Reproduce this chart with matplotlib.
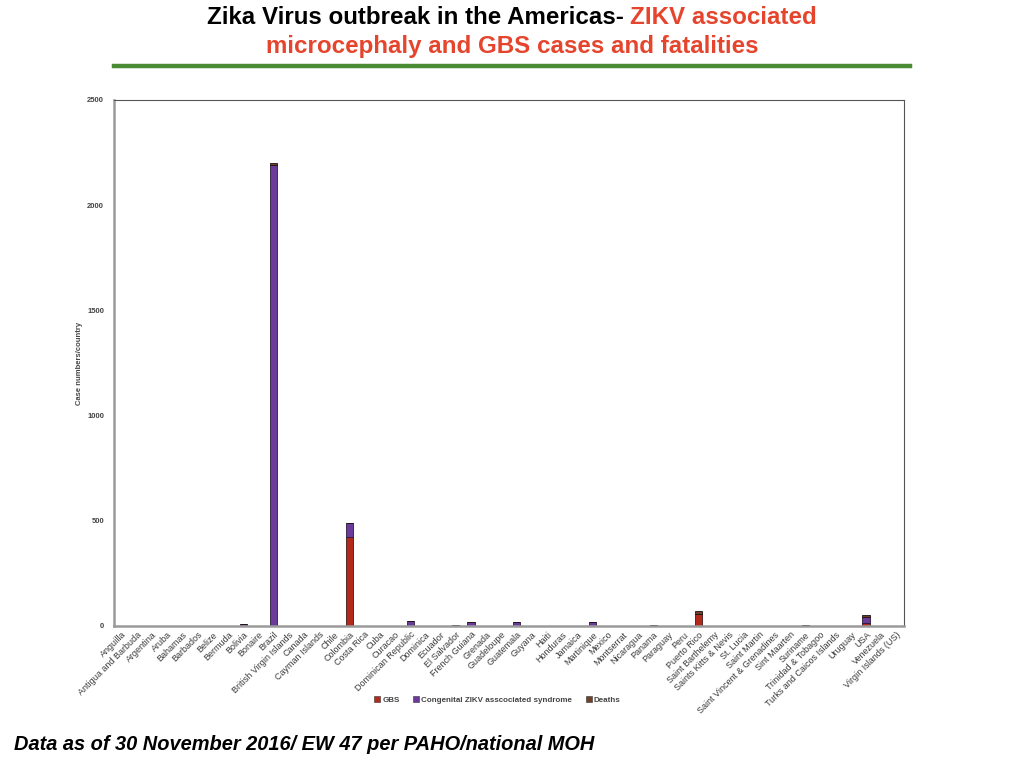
import matplotlib
matplotlib.use("Agg")
import matplotlib.pyplot as plt
import numpy as np
from matplotlib.lines import Line2D

plt.rcParams['font.family'] = ['Liberation Sans', 'DejaVu Sans']

countries = ["Anguilla", "Antigua and Barbuda", "Argentina", "Aruba", "Bahamas",
             "Barbados", "Belize", "Bermuda", "Bolivia", "Bonaire", "Brazil",
             "British Virgin Islands", "Canada", "Cayman Islands", "Chile",
             "Colombia", "Costa Rica", "Cuba", "Curacao", "Dominican Republic",
             "Dominica", "Ecuador", "El Salvador", "French Guiana", "Grenada",
             "Guadeloupe", "Guatemala", "Guyana", "Haiti", "Honduras", "Jamaica",
             "Martinique", "Mexico", "Montserrat", "Nicaragua", "Panama",
             "Paraguay", "Peru", "Puerto Rico", "Saint Barthelemy",
             "Saints Kitts & Nevis", "St. Lucia", "Saint Martin",
             "Saint Vincent & Grenadines", "Sint Maarten", "Suriname",
             "Trinidad & Tobagoo", "Turks and Caicos Islands", "Uruguay", "USA",
             "Venezuela", "Virgin Islands (US)"]

gbs = [0, 0, 0, 0, 0, 0, 0, 0, 0, 0, 0,
       0, 0, 0, 0, 423, 0, 0, 0, 0,
       0, 0, 0, 0, 0, 0, 0, 0, 0, 0, 0,
       0, 0, 0, 0, 0, 0, 0, 57, 0,
       0, 0, 0, 0, 0, 0, 0, 0, 0, 13, 0, 0]
congenital = [0, 0, 2, 0, 0, 0, 0, 0, 10, 0, 2189,
              0, 2, 0, 0, 66, 2, 0, 0, 26,
              0, 0, 6, 20, 2, 2, 20, 0, 2, 2, 0,
              20, 2, 0, 0, 5, 2, 0, 0, 0,
              0, 0, 0, 0, 2, 5, 2, 0, 0, 31, 0, 0]
deaths = [0, 0, 0, 0, 0, 0, 0, 0, 0, 0, 11,
          0, 0, 0, 0, 0, 0, 0, 0, 0,
          0, 0, 0, 0, 0, 0, 0, 0, 0, 0, 0,
          0, 0, 0, 0, 0, 0, 0, 14, 0,
          0, 0, 0, 0, 0, 0, 0, 0, 0, 8, 0, 0]

c_gbs = "#b3291c"
c_cong = "#6b3a9b"
c_death = "#6e4128"

fig = plt.figure(figsize=(10.24, 7.68), dpi=100)
ax = fig.add_axes([0.1113, 0.1849, 0.7715, 0.6849])

x = np.arange(len(countries))
g = np.array(gbs)
c = np.array(congenital)
d = np.array(deaths)
w = 0.47
ax.bar(x, g, w, color=c_gbs, edgecolor="#3a1a14", linewidth=0.6)
ax.bar(x, c, w, bottom=g, color=c_cong, edgecolor="#2a1a3a", linewidth=0.6)
ax.bar(x, d, w, bottom=g + c, color=c_death, edgecolor="#1a1010", linewidth=0.6)

ax.set_xlim(-0.5, len(countries) - 0.5)
ax.set_ylim(0, 2500)
ax.set_yticks([0, 500, 1000, 1500, 2000, 2500])
ax.tick_params(axis='y', length=0, labelsize=5.5, colors="#444444", pad=7)
ax.tick_params(axis='x', length=0, pad=3)
ax.set_xticks(x)
ax.set_xticklabels(countries, rotation=45, ha='right', rotation_mode='anchor',
                   fontsize=6.5, color="#3a3a3a")
for lab in ax.get_yticklabels():
    lab.set_fontweight('bold')
ax.set_ylabel("Case numbers/country", fontsize=5.5, color="#444444", labelpad=3,
              fontweight='bold')

for s in ['left', 'bottom']:
    ax.spines[s].set_color("#9a9a9a")
    ax.spines[s].set_linewidth(1.8)
for s in ['top', 'right']:
    ax.spines[s].set_color("#555555")
    ax.spines[s].set_linewidth(0.8)

handles = [Line2D([], [], marker='s', linestyle='', markersize=4,
                  markerfacecolor=col, markeredgecolor="#333333", markeredgewidth=0.4)
           for col in (c_gbs, c_cong, c_death)]
fig.legend(handles, ["GBS", "Congenital ZIKV asscociated syndrome", "Deaths"],
           loc='center', bbox_to_anchor=(497 / 1024, 1 - 700 / 768), ncol=3,
           frameon=False, prop={'size': 5.8, 'weight': 'bold'}, handletextpad=0.1,
           columnspacing=1.6, handlelength=1.0, labelcolor="#444444")

# title, two colours on the first line
red = "#e5452d"
fig.canvas.draw()
r = fig.canvas.get_renderer()
t1 = fig.text(0, 1 - 18 / 768, "Zika Virus outbreak in the Americas- ", fontsize=17.4,
              fontweight='bold', color='black', va='center', ha='left')
t2 = fig.text(0, 1 - 18 / 768, "ZIKV associated", fontsize=17.4,
              fontweight='bold', color=red, va='center', ha='left')
w1 = t1.get_window_extent(r).width
w2 = t2.get_window_extent(r).width
start = (1024 - (w1 + w2)) / 2
t1.set_x(start / 1024)
t2.set_x((start + w1) / 1024)
fig.text(0.5, 1 - 46 / 768, "microcephaly and GBS cases and fatalities", fontsize=17.4,
         fontweight='bold', color=red, va='center', ha='center')

fig.add_artist(Line2D([114 / 1024, 910 / 1024], [1 - 66 / 768, 1 - 66 / 768],
                      color="#4a8c34", linewidth=3.2))

fig.text(14 / 1024, 1 - 745 / 768, "Data as of 30 November 2016/ EW 47 per PAHO/national MOH",
         fontsize=14.4, fontweight='bold', fontstyle='italic', va='center', ha='left')

fig.savefig("out.png", dpi=100)
